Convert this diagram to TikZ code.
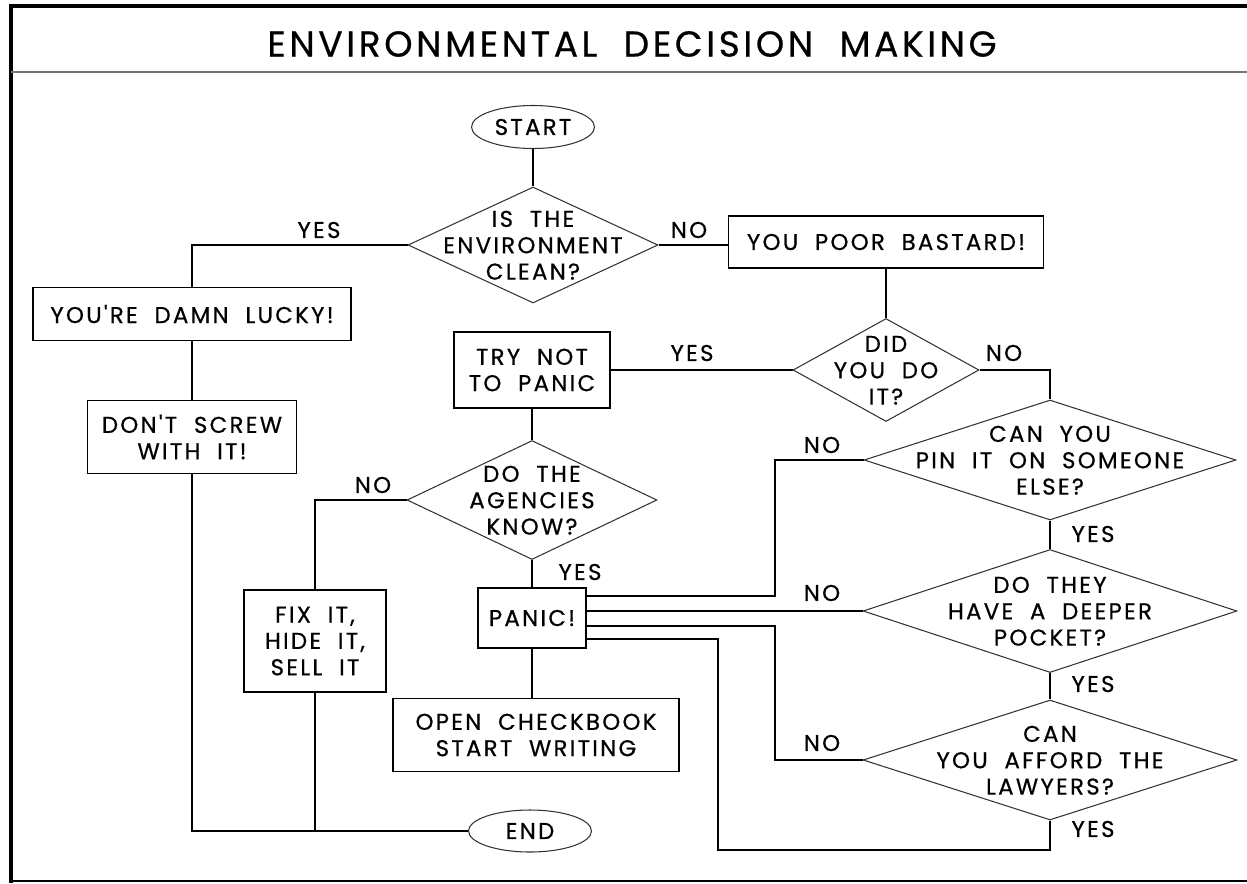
\documentclass[tikz,border=0pt]{standalone}
\usepackage{fontspec}
\usetikzlibrary{calc,shapes.geometric}
\newfontfamily\chartfont{Poppins}[LetterSpace=10, WordSpace=2, FakeBold=0.6]
\newfontfamily\headfont{Poppins}[LetterSpace=10, WordSpace=2, FakeBold=0.6]
\newcommand{\dtext}[1]{\smash{\makebox[0pt]{\raisebox{-0.36em}{\begin{tabular}{@{}c@{}}#1\end{tabular}}}}}
\tikzset{
	chart/.style={font=\chartfont\fontsize{13}{15}\selectfont},
	box/.style={chart, draw, rectangle, line width=0.9pt, inner sep=0pt, align=center},
	ask/.style={chart, draw=black!80, diamond, line width=0.6pt, inner sep=0pt},
	term/.style={chart, draw=black!80, ellipse, line width=0.6pt, inner sep=0pt},
	link/.style={line width=1.1pt},
	lbl/.style={chart, inner sep=0pt}
}

\begin{document}
\begin{tikzpicture}[x=0.02cm, y=-0.02cm]
		%%%%% START %%%%%
		\useasboundingbox (0,0) rectangle (1247,883);
		
		\draw[line width=1.8pt] (11,6) -- (1247,6);
		\draw[line width=1.8pt] (11,4) -- (11,883);
		\draw[line width=1.2pt] (11,881) -- (1247,881);
		\draw[black!55, line width=0.7pt] (11,72) -- (1247,72);
		
		\node[font=\headfont\fontsize{20.5}{24}\selectfont] (title) at (632,44) {ENVIRONMENTAL DECISION MAKING};
		
		\node[term, minimum width=2.46cm, minimum height=0.86cm] (start) at (533,127) {START};
		\node[ask, minimum width=5cm, minimum height=2.32cm] (clean) at (533,245) {\dtext{IS THE\\ENVIRONMENT\\CLEAN?}};
		\node[box, minimum width=6.3cm, minimum height=1.04cm] (poor) at (886,242) {YOU POOR BASTARD!};
		\node[box, minimum width=6.36cm, minimum height=1.06cm] (lucky) at (192,314) {YOU'RE DAMN LUCKY!};
		\node[box, minimum width=4.18cm, minimum height=1.46cm] (screw) at (192,437) {DON'T SCREW\\WITH IT!};
		\node[box, minimum width=3.12cm, minimum height=1.52cm] (trynot) at (532,370) {TRY NOT\\TO PANIC};
		\node[ask, minimum width=3.72cm, minimum height=2.06cm] (didit) at (886,370) {\dtext{DID\\YOU DO\\IT?}};
		\node[ask, minimum width=5cm, minimum height=2.38cm] (agencies) at (532,500) {\dtext{DO THE\\AGENCIES\\KNOW?}};
		\node[ask, minimum width=7.44cm, minimum height=2.4cm] (pinit) at (1050,460) {\dtext{CAN YOU\\PIN IT ON SOMEONE\\ELSE?}};
		\node[ask, minimum width=7.48cm, minimum height=2.46cm] (pocket) at (1050,611) {\dtext{DO THEY\\HAVE A DEEPER\\POCKET?}};
		\node[ask, minimum width=7.48cm, minimum height=2.4cm] (lawyers) at (1050,760) {\dtext{CAN\\YOU AFFORD THE\\LAWYERS?}};
		\node[box, minimum width=2.84cm, minimum height=2.04cm] (fixit) at (315,641) {FIX IT,\\HIDE IT,\\SELL IT};
		\node[box, minimum width=2.16cm, minimum height=1.2cm] (panic) at (532,618) {PANIC!};
		\node[box, minimum width=5.72cm, minimum height=1.46cm] (checkbook) at (536,735) {OPEN CHECKBOOK\\START WRITING};
		\node[term, minimum width=2.46cm, minimum height=0.84cm] (end) at (530,831) {END};
		
		\draw[link] (start) -- (clean);
		\draw[link] (clean.west) -| (lucky.north);
		\draw[link] (clean.east) -- (clean.east -| poor.west);
		\draw[link] (lucky) -- (screw);
		\draw[link] (screw.south) |- (end.west);
		\draw[link] (poor) -- (didit);
		\draw[link] (didit.west) -- (trynot.east);
		\draw[link] (didit.east) -| (pinit.north);
		\draw[link] (trynot) -- (agencies);
		\draw[link] (agencies.west) -| (fixit.north);
		\draw[link] (fixit.south) -- (fixit.south |- end.west);
		\draw[link] (agencies) -- (panic);
		\draw[link] (panic.south) -- (panic.south |- checkbook.north);
		\draw[link] (pinit) -- (pocket);
		\draw[link] (pocket) -- (lawyers);
		
		\draw[link] ($(panic.east)+(0,-22)$) -- ++(188,0) |- (pinit.west);
		\draw[link] ($(panic.east)+(0,-7)$) -- (pocket.west);
		\draw[link] ($(panic.east)+(0,8)$) -- ++(188,0) |- (lawyers.west);
		\draw[link] (lawyers.south) |- (718,850) |- ($(panic.east)+(0,21)$);
		
		\node[lbl] (yesclean) at (319,230) {YES};
		\node[lbl] (noclean) at (689,230) {NO};
		\node[lbl] (yesdid) at (692,353) {YES};
		\node[lbl] (nodid) at (1004,353) {NO};
		\node[lbl] (noagency) at (373,485) {NO};
		\node[lbl] (yesagency) at (580,572) {YES};
		\node[lbl] (nopin) at (822,445) {NO};
		\node[lbl] (nopocket) at (822,593) {NO};
		\node[lbl] (nolawyers) at (822,743) {NO};
		\node[lbl] (yespin) at (1093,534) {YES};
		\node[lbl] (yespocket) at (1093,684) {YES};
		\node[lbl] (yeslawyers) at (1093,829) {YES};
		
		%%%%% END %%%%%
	\end{tikzpicture}
\end{document}
